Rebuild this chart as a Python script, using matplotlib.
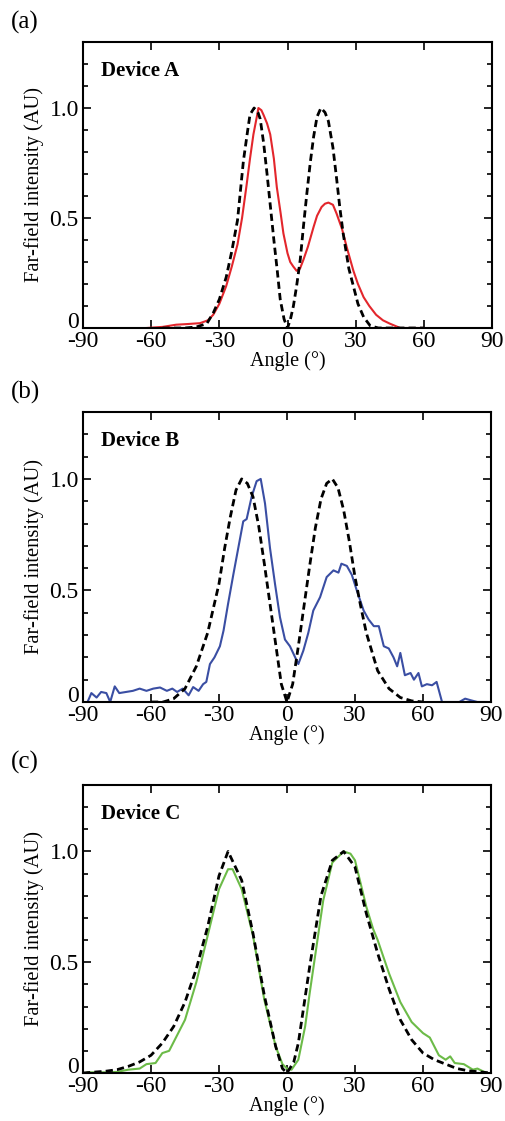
import matplotlib
matplotlib.use("Agg")
import matplotlib.pyplot as plt
from matplotlib.ticker import MultipleLocator
import matplotlib.transforms as mtransforms
import numpy as np

plt.rcParams['font.family'] = ['Liberation Serif', 'DejaVu Serif']
plt.rcParams['axes.unicode_minus'] = False

# ---------------- Device A ----------------
a_meas_x = [-62, -55, -49, -44, -38.5, -35, -32.7, -30, -27, -24.5, -22, -20, -18, -16.5, -15, -13.5, -12.8,
            -11.5, -10.6, -9, -7.6, -6, -4.7, -3, -1.8, 0, 1.2, 2.5, 4, 5.5, 7, 9, 11.5, 13, 15, 16.5, 18,
            20, 21.6, 24, 26, 29, 31, 33.5, 36, 39, 42, 45, 49.6, 55, 60]
a_meas_y = [0.0, 0.005, 0.015, 0.018, 0.022, 0.035, 0.06, 0.11, 0.19, 0.28, 0.38, 0.50, 0.65, 0.77, 0.88, 0.96, 1.0,
            0.99, 0.97, 0.93, 0.88, 0.77, 0.64, 0.52, 0.43, 0.34, 0.30, 0.28, 0.26, 0.27, 0.31, 0.37, 0.46, 0.51, 0.55, 0.565, 0.57,
            0.56, 0.52, 0.45, 0.37, 0.26, 0.20, 0.14, 0.10, 0.06, 0.035, 0.02, 0.0, 0.0, 0.0]
a_sim_x = [-55, -45, -40, -35.5, -32.6, -30, -27, -24.5, -22, -19.4, -17.5, -16.5, -14.7, -13, -12, -10.5, -9, -7.5, -6,
           -4.5, -3.2, -1.5, 0, 1.3, 2.6, 4, 5.6, 7, 8.5, 10, 11.5, 13, 14.7, 16.5, 18, 20, 21.6, 23, 24.5, 27, 29,
           31, 33.5, 36.4, 40, 50, 60]
a_sim_y = [0.0, 0.0, 0.005, 0.02, 0.07, 0.13, 0.23, 0.35, 0.49, 0.76, 0.90, 0.97, 1.0, 0.98, 0.95, 0.84, 0.70, 0.55, 0.40,
           0.26, 0.13, 0.04, 0.0, 0.04, 0.10, 0.19, 0.31, 0.46, 0.61, 0.75, 0.87, 0.96, 1.0, 0.98, 0.94, 0.82, 0.68, 0.55, 0.43, 0.27, 0.19,
           0.11, 0.05, 0.01, 0.0, 0.0, 0.0]

# ---------------- Device B ----------------
b_meas_x = [-88, -86.3, -84, -82, -79.7, -78, -76, -74, -71, -68, -65, -62, -59, -56, -53, -50.6, -48.5, -46,
            -43.4, -41.4, -39, -37, -35.6, -34, -32, -29.6, -28, -26, -23.7, -21.5, -19.3, -17.8, -15.6, -13.4,
            -11.6, -9.7, -7.5, -5.3, -3.1, -0.9, 1.3, 5, 7.2, 9.4, 11.6, 14.6, 17.5, 20.5, 22.7, 24, 26.4, 28.6,
            30.8, 33.8, 36, 38.3, 40.5, 42.7, 44.9, 47, 48.6, 50, 52, 54.5, 56, 58, 59.5, 61.7, 64, 66, 68.4,
            72, 76, 78.6, 81, 84, 88]
b_meas_y = [0.0, 0.04, 0.02, 0.045, 0.04, 0.0, 0.07, 0.04, 0.045, 0.05, 0.06, 0.05, 0.06, 0.065, 0.05, 0.06, 0.045, 0.06,
            0.03, 0.067, 0.05, 0.08, 0.09, 0.17, 0.20, 0.25, 0.32, 0.44, 0.57, 0.69, 0.81, 0.82, 0.92, 0.99,
            1.0, 0.89, 0.69, 0.53, 0.38, 0.28, 0.25, 0.17, 0.23, 0.31, 0.41, 0.47, 0.56, 0.59, 0.58, 0.62, 0.61, 0.57,
            0.50, 0.41, 0.37, 0.34, 0.34, 0.25, 0.24, 0.20, 0.16, 0.22, 0.12, 0.13, 0.10, 0.13, 0.07, 0.08, 0.075, 0.09, 0.0,
            0.0, 0.0, 0.015, 0.008, 0.0, 0.0]
b_sim_x = [-60, -54.6, -50, -45, -40, -35, -30, -27.5, -25, -22.5, -20, -17.5, -15, -12.5, -10, -7.5, -5, -2.5, 0,
           2.5, 5, 7.5, 10, 12.5, 15, 17.5, 20, 22.5, 25, 27.5, 30, 32.5, 35, 40, 45, 50, 55, 60]
b_sim_y = [0.0, 0.0, 0.015, 0.06, 0.16, 0.31, 0.53, 0.69, 0.83, 0.95, 1.0, 0.98, 0.92, 0.79, 0.62, 0.44, 0.26, 0.08, 0.0,
           0.08, 0.25, 0.43, 0.61, 0.78, 0.91, 0.98, 1.0, 0.96, 0.86, 0.72, 0.56, 0.43, 0.31, 0.14, 0.06, 0.02, 0.005, 0.0]

# ---------------- Device C ----------------
c_meas_x = [-88, -80, -75, -70, -65, -62, -58, -55, -52, -48, -45, -40, -35, -30, -26, -24, -20, -15, -10, -5, -2,
            0, 2, 5, 8, 10, 13, 16, 20, 25, 28, 30, 35, 38, 40, 45, 50, 55, 60, 63, 67, 70, 72, 74, 78, 82,
            84, 88]
c_meas_y = [0.003, 0.003, 0.005, 0.015, 0.02, 0.04, 0.045, 0.09, 0.10, 0.18, 0.24, 0.41, 0.62, 0.83, 0.92, 0.92, 0.83,
            0.62, 0.33, 0.12, 0.04, 0.02, 0.015, 0.06, 0.21, 0.36, 0.57, 0.78, 0.95, 1.0, 0.99, 0.96, 0.75, 0.65,
            0.60, 0.45, 0.32, 0.23, 0.18, 0.16, 0.08, 0.06, 0.075, 0.045, 0.04, 0.015, 0.02, 0.0]
c_sim_x = [-90, -80, -75, -70, -65, -60, -55, -50, -45, -40, -35, -30, -26, -20, -15, -10, -5, -2, 0, 3, 5, 10,
           15, 20, 25, 30, 35, 40, 45, 50, 55, 60, 65, 70, 75, 80, 90]
c_sim_y = [0.0, 0.008, 0.015, 0.03, 0.05, 0.08, 0.135, 0.21, 0.32, 0.47, 0.66, 0.89, 1.0, 0.87, 0.63, 0.35, 0.12, 0.02,
           0.0, 0.05, 0.135, 0.48, 0.80, 0.96, 1.0, 0.93, 0.72, 0.54, 0.38, 0.24, 0.15, 0.09, 0.06, 0.04, 0.02, 0.01, 0.0]

panels = [
    ("(a)", "Device A", a_meas_x, a_meas_y, a_sim_x, a_sim_y, "#e3262c"),
    ("(b)", "Device B", b_meas_x, b_meas_y, b_sim_x, b_sim_y, "#3a4ea3"),
    ("(c)", "Device C", c_meas_x, c_meas_y, c_sim_x, c_sim_y, "#6cbb48"),
]
xticks = [-90, -60, -30, 0, 30, 60, 90]

W, H = 505, 1121
fig = plt.figure(figsize=(W / 100, H / 100), dpi=100)
# axes boxes in pixels: (left, top, right, bottom)
boxes = [(83, 42, 492, 328), (83, 412, 491, 702), (83, 785, 491, 1073)]
label_y = [22, 392, 762]

for (plab, dev, mx, my, sx, sy, col), (l, t, r, b), ly in zip(panels, boxes, label_y):
    ax = fig.add_axes([l / W, 1 - b / H, (r - l) / W, (b - t) / H])
    ax.plot(mx, my, color=col, lw=1.5, zorder=2)
    ax.plot(sx, sy, color='black', lw=2.0, ls=(0, (2.6, 1.5)), zorder=3)
    ax.set_xlim(-90, 90)
    ax.set_ylim(0, 1.3)
    ax.set_xticks(xticks)
    ax.set_xticklabels([str(v) for v in xticks])
    ax.set_yticks([0, 0.5, 1.0])
    ax.set_yticklabels(["0", "0.5", "1.0"])
    ax.yaxis.set_minor_locator(MultipleLocator(0.1))
    ax.tick_params(which='both', direction='in', top=True, right=True, labelsize=17, width=1.2)
    ax.tick_params(which='major', length=6)
    ax.tick_params(which='minor', length=3.5)
    ax.tick_params(axis='x', pad=2.5)
    ax.tick_params(axis='y', pad=3)
    # raise the "0" y label slightly as in the reference
    lab0 = ax.get_yticklabels()[0]
    lab0.set_transform(lab0.get_transform() + mtransforms.ScaledTranslation(0, 6 / 72, fig.dpi_scale_trans))
    for sp in ax.spines.values():
        sp.set_linewidth(1.5)
    ax.set_xlabel("Angle (°)", fontsize=14.5, labelpad=-1)
    ax.set_ylabel("Far-field intensity (AU)", fontsize=14.8, labelpad=4)
    ax.text(0.045, 0.9, dev, transform=ax.transAxes, fontsize=15, fontweight='bold', va='center', ha='left')
    fig.text(11 / W, 1 - ly / H, plab, fontsize=18, va='center', ha='left')

fig.savefig("out.png", dpi=100)
